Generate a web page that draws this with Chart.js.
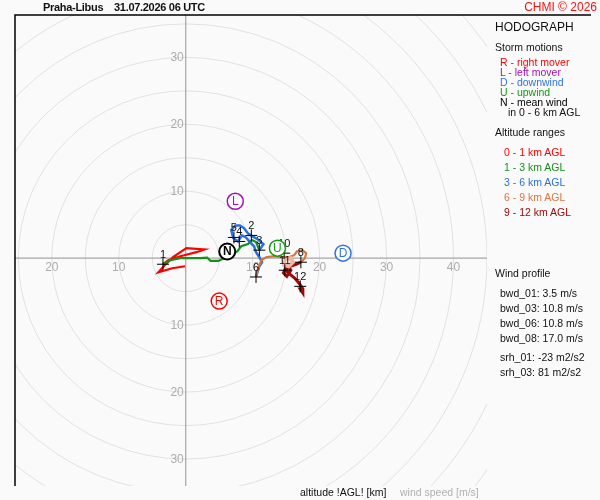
<!DOCTYPE html>
<html lang="cs">
<head>
<meta charset="UTF-8" />
<title>Hodograph Praha-Libus</title>
<script src="https://cdn.jsdelivr.net/npm/chart.js"></script>
<style>
  html, body { margin: 0; padding: 0; background: #fafafa; }
  .wrap { position: relative; width: 600px; height: 500px; font-family: "Liberation Sans", Arial, sans-serif; }
  canvas { display: block; position: absolute; left: 0; top: 0; }
  .t { position: absolute; white-space: nowrap; font-size: 10.5px; line-height: 12px; color: #111; }
  .head { font-size: 11px; line-height: 14px; font-weight: bold; top: 0; letter-spacing: -0.3px; }
</style>
</head>
<body>
<div class="wrap" id="wrap">
  <canvas id="hodo" width="600" height="500"></canvas>
  <div class="t head" style="left:43px">Praha-Libus</div>
  <div class="t head" style="left:114px">31.07.2026 06 UTC</div>
  <div class="t" style="right:3px;top:0;font-size:12px;line-height:14px;color:#ff1010">CHMI © 2026</div>
  <div class="t" style="left:495px;top:20px;font-size:12px;line-height:14px">HODOGRAPH</div>
  <div class="t" style="left:300px;top:486px">altitude !AGL! [km]</div>
  <div class="t" style="left:400px;top:486px;color:#b0b0b0">wind speed [m/s]</div>
</div>
<script>
  // hodograph traces, u/v in m/s, one pair of arrays per altitude range
  const layer01U = [-0.1, -2.0, -4.1, -3.1, -1.9, 0.1, 2.8, 1.6, -0.8, -2.6, -3.4];
  const layer01V = [-1.2, -1.5, -2.1, -1.0, 0.15, 1.5, 1.3, 0.9, 0.3, -0.3, -0.9];
  const layer13U = [-3.4, -2.3, -0.8, 0.7, 2.2, 3.2, 3.7, 4.9, 5.7, 6.6, 7.7, 8.3, 9.3, 9.9, 10.5, 11.0];
  const layer13V = [-0.9, -0.3, 0, 0, 0, 0.1, -0.4, -0.4, 0, 0.45, 1.0, 1.8, 2.1, 2.7, 2.4, 1.2];
  const layer36U = [11.0, 11.6, 10.8, 9.9, 9.3, 8.7, 8.1, 7.4, 6.8, 7.1, 7.8, 8.4, 9.0, 9.6, 10.2, 10.5, 11.0, 11.4, 11.0, 10.5];
  const layer36V = [1.2, 2.1, 2.8, 3.3, 3.7, 4.5, 4.9, 4.9, 4.2, 3.0, 2.5, 3.4, 3.1, 2.4, 1.8, 0.9, 0.15, -0.6, -1.2, -2.8];
  const layer69U = [10.5, 10.8, 11.3, 12.0, 13.2, 14.4, 15.4, 16.2, 16.6, 17.4, 18.0, 17.8, 17.2];
  const layer69V = [-2.8, -1.5, -0.3, 0.15, 0.3, 0.15, 0.15, 0.45, 1.0, 1.2, 0.75, 0, -0.6];
  const layer912U = [17.2, 16.5, 15.6, 14.9, 14.6, 15.1, 15.7, 15.3, 15.0, 15.6, 16.3, 16.9, 17.5, 17.5, 17.1, 17.2];
  const layer912V = [-0.6, -0.9, -1.2, -1.5, -2.2, -2.7, -1.8, -1.2, -1.9, -2.4, -3.0, -3.7, -4.6, -5.2, -4.6, -4.2];
  const blobU = [14.7, 15.7, 16.0, 15.4, 14.7, 14.7];
  const blobV = [-0.15, 0, -0.6, -1.2, -1.0, -0.3];

  // km marks along the profile
  const kmLabels = ["1", "2", "3", "4", "5", "6", "8", "10", "11", "12"];
  const kmU = [-3.4, 9.8, 11.0, 8.0, 7.2, 10.5, 17.2, 14.7, 14.8, 17.1];
  const kmV = [-0.9, 3.4, 1.2, 2.5, 3.1, -2.8, -0.6, 0.75, -1.8, -4.2];

  // storm motions
  const stormLetters = ["R", "L", "D", "U", "N"];
  const stormU = [5.0, 7.4, 23.5, 13.7, 6.2];
  const stormV = [-6.4, 8.5, 0.75, 1.5, 1.0];
  const stormColors = ["#ff0000", "#a810b8", "#2f74e6", "#119a11", "#000000"];

  // grid
  const ringRadii = [5, 10, 15, 20, 25, 30, 35, 40, 45, 50, 55, 60];
  const xTicks = [-20, -10, 10, 20, 30, 40];
  const yTicks = [-30, -20, -10, 10, 20, 30];

  // side panel
  const stormLegend = ["R - right mover", "L - left mover", "D - downwind", "U - upwind", "N - mean wind"];
  const rangeLegend = ["0 - 1 km AGL", "1 - 3 km AGL", "3 - 6 km AGL", "6 - 9 km AGL", "9 - 12 km AGL"];
  const rangeColors = ["#ff0000", "#12921a", "#2a6fe0", "#e0733c", "#a00808"];
  const profileLines = ["bwd_01: 3.5 m/s", "bwd_03: 10.8 m/s", "bwd_06: 10.8 m/s", "bwd_08: 17.0 m/s"];
  const srhLines = ["srh_01: -23 m2/s2", "srh_03: 81 m2/s2"];

  const wrap = document.getElementById("wrap");
  function addText(txt, left, top, color) {
    const d = document.createElement("div");
    d.className = "t";
    d.textContent = txt;
    d.style.left = left + "px";
    d.style.top = top + "px";
    if (color) d.style.color = color;
    wrap.appendChild(d);
  }
  addText("Storm motions", 495, 41);
  stormLegend.forEach((s, i) => addText(s, 500, 56 + i * 10, stormColors[i]));
  addText("in 0 - 6 km AGL", 508, 106);
  addText("Altitude ranges", 495, 126);
  rangeLegend.forEach((s, i) => addText(s, 504, 146 + i * 15, rangeColors[i]));
  addText("Wind profile", 495, 267);
  profileLines.forEach((s, i) => addText(s, 500, 287 + i * 15));
  srhLines.forEach((s, i) => addText(s, 500, 351 + i * 15));

  const pts = (us, vs) => us.map((u, i) => ({ x: u, y: vs[i] }));

  const hodoGrid = {
    id: "hodoGrid",
    beforeDatasetsDraw(chart) {
      const { ctx, chartArea: a, scales: { x, y } } = chart;
      const cx = x.getPixelForValue(0), cy = y.getPixelForValue(0);
      ctx.save();
      ctx.beginPath();
      ctx.rect(a.left, a.top, a.right - a.left, a.bottom - a.top);
      ctx.clip();
      ctx.strokeStyle = "#e1e1e1";
      ctx.lineWidth = 1;
      ringRadii.forEach((r) => {
        ctx.beginPath();
        ctx.arc(cx, cy, x.getPixelForValue(r) - cx, 0, Math.PI * 2);
        ctx.stroke();
      });
      ctx.strokeStyle = "#a6a6a6";
      ctx.lineWidth = 1.2;
      ctx.beginPath();
      ctx.moveTo(a.left, cy); ctx.lineTo(a.right, cy);
      ctx.moveTo(cx, a.top); ctx.lineTo(cx, a.bottom);
      ctx.stroke();
      ctx.fillStyle = "#acacac";
      ctx.font = "12px 'Liberation Sans', Arial";
      ctx.textAlign = "center";
      ctx.textBaseline = "middle";
      xTicks.forEach((t) => ctx.fillText(Math.abs(t), x.getPixelForValue(t), cy + 9));
      ctx.textAlign = "right";
      yTicks.forEach((t) => ctx.fillText(Math.abs(t), cx - 2, y.getPixelForValue(t)));
      ctx.restore();
    },
    afterDatasetsDraw(chart) {
      const { ctx, scales: { x, y } } = chart;
      ctx.save();
      ctx.fillStyle = "#111";
      ctx.font = "11px 'Liberation Sans', Arial";
      ctx.textAlign = "center";
      ctx.textBaseline = "middle";
      kmLabels.forEach((l, i) => ctx.fillText(l, x.getPixelForValue(kmU[i]), y.getPixelForValue(kmV[i]) - 9));
      stormLetters.forEach((l, i) => {
        const px = x.getPixelForValue(stormU[i]), py = y.getPixelForValue(stormV[i]);
        ctx.beginPath();
        ctx.arc(px, py, 8, 0, Math.PI * 2);
        ctx.fillStyle = "#ffffff";
        ctx.fill();
        ctx.lineWidth = l === "N" ? 2 : 1.5;
        ctx.strokeStyle = stormColors[i];
        ctx.stroke();
        ctx.fillStyle = stormColors[i];
        ctx.font = (l === "N" ? "bold " : "") + "12px 'Liberation Sans', Arial";
        ctx.fillText(l, px, py + 0.5);
      });
      ctx.restore();
    },
    afterDraw(chart) {
      const { ctx, chartArea: a } = chart;
      ctx.save();
      ctx.strokeStyle = "#000";
      ctx.lineWidth = 1.5;
      ctx.beginPath();
      ctx.moveTo(a.left, a.bottom);
      ctx.lineTo(a.left, a.top);
      ctx.lineTo(591, a.top);
      ctx.stroke();
      ctx.restore();
    },
  };

  const trace = (label, data, color, width, order) => ({
    type: "line",
    label,
    data,
    borderColor: color,
    borderWidth: width,
    pointRadius: 0,
    showLine: true,
    tension: 0,
    order,
  });

  new Chart(document.getElementById("hodo"), {
    type: "scatter",
    data: {
      datasets: [
        {
          label: "km",
          data: pts(kmU, kmV),
          pointStyle: "cross",
          pointRadius: 6,
          borderColor: "#000",
          borderWidth: 1,
          order: 0,
        },
        trace("blob", pts(blobU, blobV), "#ecb7a8", 4, 1),
        trace("9-12", pts(layer912U, layer912V), "#a00808", 3, 2),
        trace("6-9", pts(layer69U, layer69V), "#d8733e", 2.2, 3),
        trace("3-6", pts(layer36U, layer36V), "#2a6fe0", 2.5, 4),
        trace("1-3", pts(layer13U, layer13V), "#12921a", 2.2, 5),
        trace("0-1", pts(layer01U, layer01V), "#ff0000", 2.2, 6),
      ],
    },
    options: {
      responsive: false,
      animation: false,
      devicePixelRatio: 1,
      layout: { padding: { left: 15, top: 15, right: 113, bottom: 14 } },
      plugins: { legend: { display: false }, tooltip: { enabled: false } },
      scales: {
        x: { type: "linear", min: -25.5, max: 45, display: false },
        y: { type: "linear", min: -34, max: 36.3, display: false },
      },
    },
    plugins: [hodoGrid],
  });
</script>
</body>
</html>
